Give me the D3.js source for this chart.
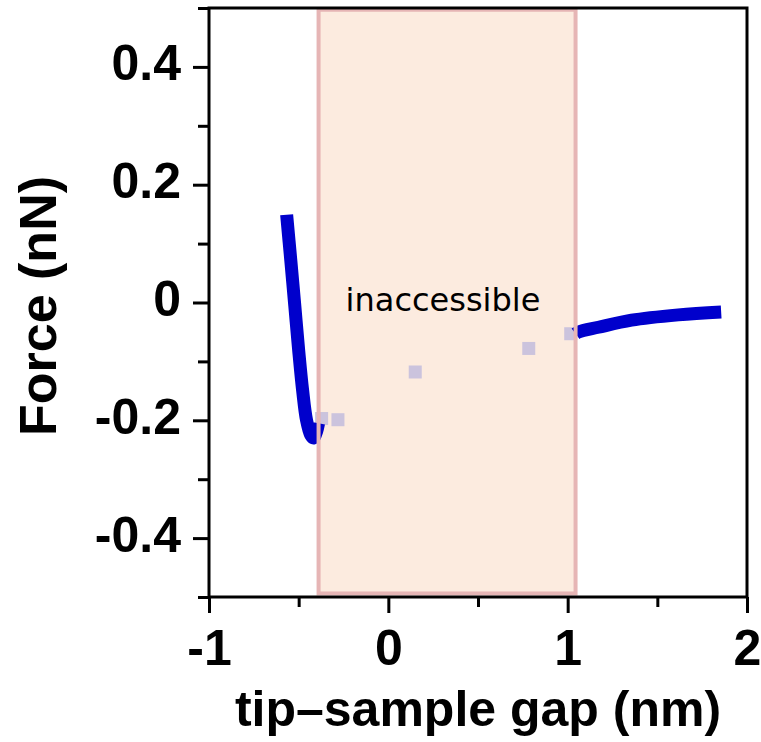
<!DOCTYPE html>
<html>
<head>
<meta charset="utf-8">
<script src="https://cdn.jsdelivr.net/npm/d3@7"></script>
<style>
  body { margin: 0; background: #fff; }
  text { font-family: "Liberation Sans", Arial, Helvetica, sans-serif; }
</style>
</head>
<body>
<svg width="761" height="742"></svg>
<script>
// measured force curve, left branch (tip close to sample)
var leftGap = [-0.567, -0.544, -0.522, -0.5, -0.478, -0.456, -0.433, -0.417, -0.4, -0.389];
var leftForce = [0.149, 0.072, -0.004, -0.081, -0.149, -0.2, -0.225, -0.23, -0.219, -0.205];
// right branch (far from sample)
var rightGap = [1.044, 1.061, 1.172, 1.356, 1.617, 1.856];
var rightForce = [-0.053, -0.05, -0.042, -0.03, -0.021, -0.016];
// grey points inside the inaccessible zone
var dotGap = [-0.372, -0.281, 0.15, 0.783, 1.017];
var dotForce = [-0.197, -0.199, -0.118, -0.078, -0.053];
// inaccessible band
var bandX = [-0.389, 1.044];
var bandY = [-0.494, 0.497];

var xTicks = [-1, 0, 1, 2];
var xMinor = [-0.5, 0.5, 1.5];
var yTicks = [-0.4, -0.2, 0, 0.2, 0.4];
var yMinor = [-0.5, -0.3, -0.1, 0.1, 0.3, 0.5];

const svg = d3.select("svg");
var x = d3.scaleLinear().domain([-1, 2]).range([209, 747]);
var y = d3.scaleLinear().domain([-0.5, 0.5]).range([597, 8]);

// shaded band fill
svg.append("rect")
  .attr("x", x(bandX[0]))
  .attr("y", y(bandY[1]))
  .attr("width", x(bandX[1]) - x(bandX[0]))
  .attr("height", y(bandY[0]) - y(bandY[1]))
  .attr("fill", "#fcebdf");

svg.append("text")
  .attr("x", 443)
  .attr("y", 311)
  .attr("text-anchor", "middle")
  .style("font-family", "'Comic Sans MS', 'DejaVu Sans', sans-serif")
  .style("font-size", "32px")
  .attr("fill", "#000")
  .text("inaccessible");

// grey squares
var SQ = 13;
svg.append("g").selectAll("rect")
  .data(d3.range(dotGap.length))
  .join("rect")
  .attr("x", function (i) { return x(dotGap[i]) - SQ / 2; })
  .attr("y", function (i) { return y(dotForce[i]) - SQ / 2; })
  .attr("width", SQ)
  .attr("height", SQ)
  .attr("fill", "#cbc3dd");

var line = d3.line()
  .x(function (d) { return x(d[0]); })
  .y(function (d) { return y(d[1]); })
  .curve(d3.curveCatmullRom);

svg.append("path")
  .datum(d3.zip(leftGap, leftForce))
  .attr("d", line)
  .attr("fill", "none")
  .attr("stroke", "#0000cc")
  .attr("stroke-width", 13);

svg.append("path")
  .datum(d3.zip(rightGap, rightForce))
  .attr("d", line)
  .attr("fill", "none")
  .attr("stroke", "#0000cc")
  .attr("stroke-width", 13);

// band border on top
svg.append("rect")
  .attr("x", x(bandX[0]))
  .attr("y", y(bandY[1]))
  .attr("width", x(bandX[1]) - x(bandX[0]))
  .attr("height", y(bandY[0]) - y(bandY[1]))
  .attr("fill", "none")
  .attr("stroke", "#e6b5b5")
  .attr("stroke-width", 4);

// frame
svg.append("rect")
  .attr("x", x(-1))
  .attr("y", y(0.5))
  .attr("width", x(2) - x(-1))
  .attr("height", y(-0.5) - y(0.5))
  .attr("fill", "none")
  .attr("stroke", "#000")
  .attr("stroke-width", 3);

// x axis ticks
var xAxis = d3.axisBottom(x).tickValues(xTicks).tickSize(16).tickPadding(14)
  .tickFormat(function (d) { return d < 0 ? "-" + Math.abs(d) : d; });
var gx = svg.append("g").attr("transform", "translate(0," + y(-0.5) + ")").call(xAxis);
gx.select(".domain").remove();
gx.selectAll("line").attr("stroke-width", 3);
gx.selectAll("text")
  .attr("dy", null)
  .attr("y", 68)
  .style("font-size", "50px")
  .style("font-weight", "bold")
  .attr("fill", "#000");

var gxm = svg.append("g").attr("transform", "translate(0," + y(-0.5) + ")")
  .call(d3.axisBottom(x).tickValues(xMinor).tickSize(10).tickFormat(""));
gxm.select(".domain").remove();
gxm.selectAll("line").attr("stroke-width", 3);

// y axis ticks
var yAxis = d3.axisLeft(y).tickValues(yTicks).tickSize(16).tickPadding(12)
  .tickFormat(function (d) { return d === 0 ? "0" : (d < 0 ? "-" : "") + Math.abs(d).toFixed(1); });
var gy = svg.append("g").attr("transform", "translate(" + x(-1) + ",0)").call(yAxis);
gy.select(".domain").remove();
gy.selectAll("line").attr("stroke-width", 3);
gy.selectAll("text")
  .attr("dy", null)
  .attr("y", 13)
  .style("font-size", "50px")
  .style("font-weight", "bold")
  .attr("fill", "#000");

var gym = svg.append("g").attr("transform", "translate(" + x(-1) + ",0)")
  .call(d3.axisLeft(y).tickValues(yMinor).tickSize(11).tickFormat(""));
gym.select(".domain").remove();
gym.selectAll("line").attr("stroke-width", 3);

// axis titles
svg.append("text")
  .attr("x", 478)
  .attr("y", 726)
  .attr("text-anchor", "middle")
  .style("font-size", "50px")
  .style("font-weight", "bold")
  .text("tip\u2013sample gap (nm)");

svg.append("text")
  .attr("transform", "translate(56,306) rotate(-90)")
  .attr("text-anchor", "middle")
  .style("font-size", "52px")
  .style("font-weight", "bold")
  .text("Force (nN)");
</script>
</body>
</html>
